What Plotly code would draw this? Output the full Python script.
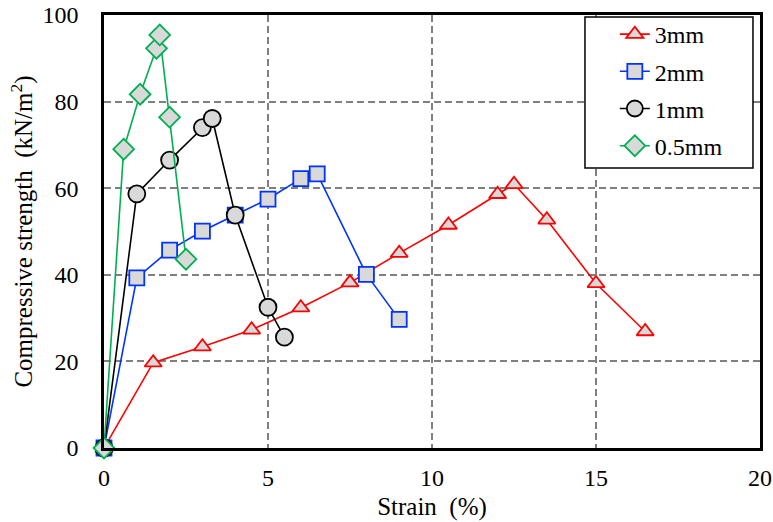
import plotly.graph_objects as go

x_3mm = [0, 1.5, 3.0, 4.5, 6.0, 7.5, 9.0, 10.5, 12.0, 12.5, 13.5, 15.0, 16.5]
y_3mm = [0, 19.7, 23.4, 27.3, 32.4, 38.2, 45.0, 51.5, 58.6, 60.9, 52.7, 38.0, 26.9]

x_2mm = [0, 1.0, 2.0, 3.0, 4.0, 5.0, 6.0, 6.5, 8.0, 9.0]
y_2mm = [0, 39.3, 45.7, 50.1, 53.8, 57.5, 62.2, 63.3, 40.1, 29.7]

x_1mm = [0, 1.0, 2.0, 3.0, 3.3, 4.0, 5.0, 5.5]
y_1mm = [0, 58.7, 66.5, 74.0, 76.1, 53.8, 32.5, 25.6]

x_05mm = [0, 0.6, 1.1, 1.6, 1.7, 2.0, 2.5]
y_05mm = [0, 69.0, 81.7, 92.3, 95.4, 76.4, 43.6]

series = [
    ("3mm", x_3mm, y_3mm, "#ff0000", "triangle-up", 15),
    ("2mm", x_2mm, y_2mm, "#0033ff", "square", 15),
    ("1mm", x_1mm, y_1mm, "#000000", "circle", 17),
    ("0.5mm", x_05mm, y_05mm, "#00b050", "diamond", 16),
]

fig = go.Figure()
for name, xs, ys, col, sym, sz in series:
    fig.add_trace(go.Scatter(
        x=xs, y=ys, name=name, mode="lines+markers", legendgroup=name,
        cliponaxis=False,
        line=dict(color=col, width=1.6),
        marker=dict(symbol=sym, size=sz, color="#d9d9d9",
                    line=dict(color=col, width=1.8)),
    ))

# legend frame drawn as a shape (white box with black border)
fig.add_shape(type="rect", xref="paper", yref="paper",
              x0=0.7332, x1=0.9893, y0=0.6467, y1=0.9954,
              fillcolor="white", line=dict(color="black", width=1.5),
              layer="above")

font_family = "Liberation Serif"
fig.update_layout(
    width=773, height=522,
    margin=dict(l=104, r=13, t=15, b=74),
    paper_bgcolor="white", plot_bgcolor="white",
    font=dict(family=font_family, size=24, color="black"),
    showlegend=True,
    legend=dict(
        x=0.7787, y=1.0069, xanchor="left", yanchor="top",
        bgcolor="rgba(0,0,0,0)", borderwidth=0,
        font=dict(size=24, family=font_family),
        tracegroupgap=3,
    ),
)
fig.update_xaxes(
    range=[0, 20], dtick=5, tick0=0, automargin=False,
    showline=True, linecolor="black", linewidth=2.5, mirror=True,
    showgrid=True, gridcolor="#808080", griddash="7px,4px", gridwidth=1.5,
    zeroline=False, ticks="", ticklabelstandoff=6,
    tickfont=dict(size=24),
    title=dict(text="Strain  (%)", font=dict(size=25), standoff=8),
)
fig.update_yaxes(
    range=[0, 100], dtick=20, tick0=0, automargin=False,
    showline=True, linecolor="black", linewidth=2.5, mirror=True,
    showgrid=True, gridcolor="#808080", griddash="7px,4px", gridwidth=1.5,
    zeroline=False, ticks="", ticklabelstandoff=18,
    tickfont=dict(size=24),
    title=dict(text="Compressive strength  (kN/m<sup>2</sup>)", font=dict(size=25), standoff=3),
)

fig.write_html("out.html", config={"displayModeBar": False},
               post_script="document.body.style.margin='0';")
